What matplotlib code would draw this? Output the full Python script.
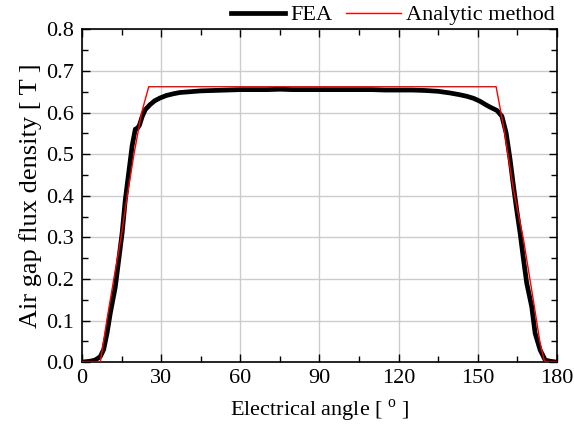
import matplotlib
matplotlib.use("Agg")
import matplotlib.pyplot as plt
from matplotlib.ticker import MultipleLocator, FormatStrFormatter

plt.rcParams['font.family'] = ['Liberation Serif', 'DejaVu Serif']
plt.rcParams['mathtext.fontset'] = 'custom'
plt.rcParams['mathtext.rm'] = 'Liberation Serif'

# FEA data
fea_angle = [0, 3, 5, 6.9, 8.2, 9.5, 10.7, 11.4, 12.6, 13.9, 15.2, 16.4, 17.7, 19.0,
             20.2, 21.0, 21.8, 22.8, 24.0, 25.8, 27.5, 29.6, 32, 34.6, 37, 41, 45,
             50, 55, 60, 65, 70, 75, 80, 85, 90, 95, 100, 105, 110, 115, 120, 125,
             130, 135, 139.5, 143, 145.9, 148.5, 150.9, 153, 154.7, 157.3, 159.2,
             160.8, 162.3, 163.6, 164.8, 166.1, 167.4, 168.6, 170.5, 171.8, 173.7,
             175.6, 177.5, 180]
fea_b = [0, 0.002, 0.005, 0.013, 0.03, 0.07, 0.117, 0.14, 0.18, 0.245, 0.31, 0.39,
         0.455, 0.52, 0.560, 0.562, 0.570, 0.59, 0.607, 0.619, 0.628, 0.635, 0.641,
         0.645, 0.648, 0.650, 0.652, 0.653, 0.654, 0.655, 0.655, 0.655, 0.656, 0.655,
         0.655, 0.655, 0.655, 0.655, 0.655, 0.655, 0.654, 0.654, 0.654, 0.653, 0.651,
         0.647, 0.643, 0.639, 0.634, 0.627, 0.619, 0.613, 0.605, 0.591, 0.551, 0.487,
         0.422, 0.366, 0.31, 0.246, 0.19, 0.133, 0.069, 0.029, 0.005, 0.002, 0]

# Analytic method data
ana_angle = [0, 6.95, 9.4, 12.0, 14.8, 16.9, 19.7, 22.6, 25.3, 157.0, 159.8, 163.6,
             167.4, 171.1, 173.7, 175.2, 175.9, 180]
ana_b = [0, 0, 0.1, 0.198, 0.3, 0.39, 0.5, 0.6, 0.662, 0.662, 0.567, 0.414, 0.294,
         0.149, 0.045, 0.005, 0, 0]

x_ticks = [0, 30, 60, 90, 120, 150, 180]

fig = plt.figure(figsize=(5.74, 4.25), dpi=100)
ax = fig.add_axes([0.1429, 0.148, 0.8271, 0.783])

l1, = ax.plot(fea_angle, fea_b, color='black', lw=3.4, solid_joinstyle='round', label='FEA', zorder=3)
l2, = ax.plot(ana_angle, ana_b, color='#ff0000', lw=1.0, label='Analytic method', zorder=4)

ax.set_xlim(0, 180)
ax.set_ylim(0, 0.8)
ax.set_xticks(x_ticks)
ax.xaxis.set_minor_locator(MultipleLocator(15))
ax.yaxis.set_major_locator(MultipleLocator(0.1))
ax.yaxis.set_minor_locator(MultipleLocator(0.05))
ax.yaxis.set_major_formatter(FormatStrFormatter('%.1f'))

ax.tick_params(which='both', direction='in', top=True, right=True, labelsize=16, width=1.0, colors='black')
ax.tick_params(which='major', length=6)
ax.tick_params(which='minor', length=4)
ax.tick_params(axis='x', pad=5)
ax.tick_params(axis='y', pad=6)

ax.grid(True, which='major', color='#cccccc', lw=1.0, zorder=0)
ax.set_axisbelow(True)
for s in ax.spines.values():
    s.set_linewidth(1.2)

ax.set_xlabel(r'Electrical angle [ $^{\rm o}$ ]', fontsize=16, labelpad=7)
ax.set_ylabel('Air gap flux density [ T ]', fontsize=19, labelpad=3)

fig.legend(handles=[l1, l2], loc='upper right', bbox_to_anchor=(0.99, 1.02), ncol=2,
           frameon=False, fontsize=16, handlelength=2.45, columnspacing=0.6,
           handletextpad=0.25, borderaxespad=0.2)

fig.savefig('out.png', dpi=100)
